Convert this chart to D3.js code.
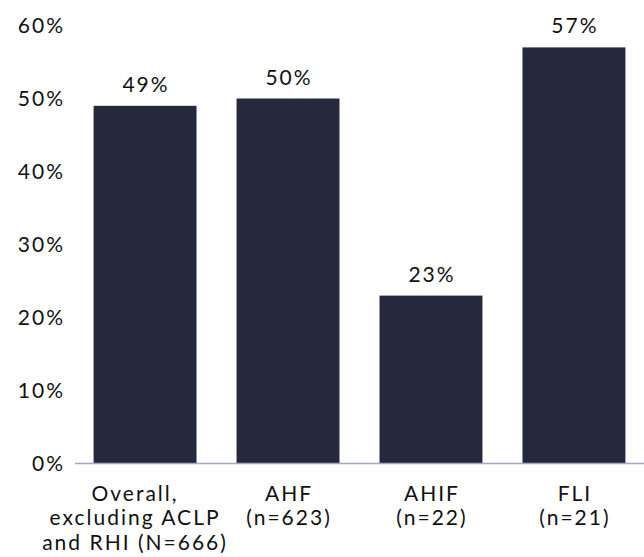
<!DOCTYPE html>
<html>
<head>
<meta charset="utf-8">
<script src="https://cdn.jsdelivr.net/npm/d3@7"></script>
<style>
  html, body { margin: 0; padding: 0; background: #fff; }
  svg text { font-family: Lato, "Open Sans", sans-serif; fill: #111; font-size: 21px; letter-spacing: 2px; }
</style>
</head>
<body>
<svg id="chart" width="644" height="557"></svg>
<script>
// Share of respondents by group
const categories = ["Overall", "AHF", "AHIF", "FLI"];
const categoryLines = [
  ["Overall,", "excluding ACLP", "and RHI (N=666)"],
  ["AHF", "(n=623)"],
  ["AHIF", "(n=22)"],
  ["FLI", "(n=21)"]
];
const values = [49, 50, 23, 57];
const yTicks = [0, 10, 20, 30, 40, 50, 60];

const svg = d3.select("#chart");
const baseY = 463.5;

const x = d3.scaleBand()
  .domain(categories)
  .range([75, 644])
  .paddingInner(0.28)
  .paddingOuter(0.13);

const y = d3.scaleLinear()
  .domain([0, 60])
  .range([baseY, 25.5]);

// y tick labels (trailing letter-spacing compensated)
svg.append("g")
  .selectAll("text")
  .data(yTicks)
  .join("text")
  .attr("x", 65)
  .attr("y", d => y(d))
  .attr("dy", "0.36em")
  .attr("text-anchor", "end")
  .text(d => d + "%");

// bars
svg.append("g")
  .selectAll("rect")
  .data(values)
  .join("rect")
  .attr("x", (d, i) => x(categories[i]))
  .attr("y", d => y(d))
  .attr("width", x.bandwidth())
  .attr("height", d => baseY - y(d))
  .attr("fill", "#26283e");

// baseline
svg.append("line")
  .attr("x1", 75).attr("x2", 644)
  .attr("y1", baseY).attr("y2", baseY)
  .attr("stroke", "#a3a7c0")
  .attr("stroke-width", 1.5);

// value labels
svg.append("g")
  .selectAll("text")
  .data(values)
  .join("text")
  .attr("x", (d, i) => x(categories[i]) + x.bandwidth() / 2 + 1)
  .attr("y", d => y(d) - 14)
  .attr("text-anchor", "middle")
  .text(d => d + "%");

// category labels; the long first label sits a little left so it clears the next one
const catG = svg.append("g")
  .selectAll("text")
  .data(categoryLines)
  .join("text")
  .attr("text-anchor", "middle")
  .attr("x", (d, i) => x(categories[i]) + x.bandwidth() / 2 + 1 - (i === 0 ? 11 : 0));

catG.selectAll("tspan")
  .data(d => d)
  .join("tspan")
  .attr("x", function() { return d3.select(this.parentNode).attr("x"); })
  .attr("y", (d, j) => 500.5 + j * 24.5)
  .text(d => d);
</script>
</body>
</html>
